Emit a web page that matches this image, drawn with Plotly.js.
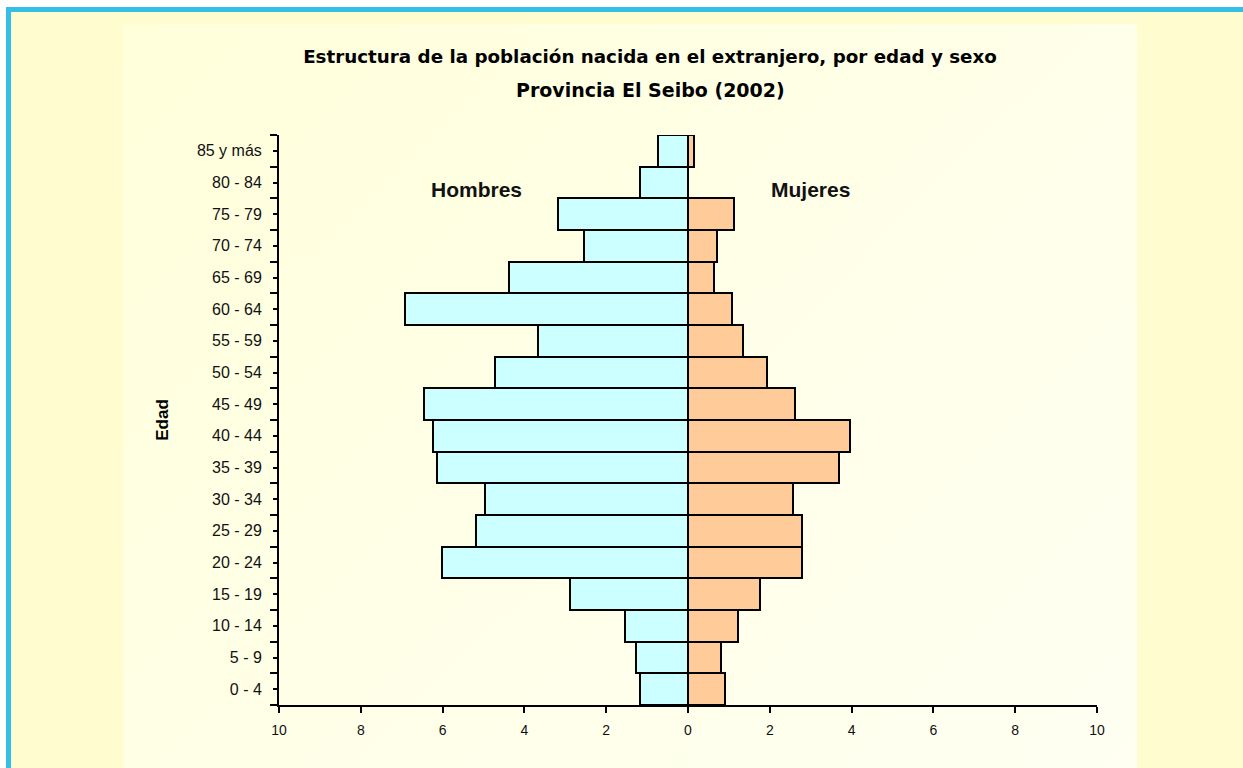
<!DOCTYPE html>
<html>
<head>
<meta charset="utf-8">
<script src="https://cdn.plot.ly/plotly-3.0.1.min.js"></script>
<style>
  html, body { margin:0; padding:0; width:1243px; height:768px; overflow:hidden; background:#ffffff; }
  #frame { position:absolute; left:6px; top:7px; width:1237px; height:761px; background:#FFFDD0; border-left:5px solid #33BFE6; border-top:5px solid #33BFE6; box-sizing:border-box; }
  #panel { position:absolute; left:123px; top:24px; width:1014px; height:744px; background:linear-gradient(135deg, #FFFFDA 0%, #FFFFE8 50%, #FFFFF2 100%); }
  #chart { position:absolute; left:0; top:0; width:1243px; height:768px; }
</style>
</head>
<body>
<div id="frame"></div>
<div id="panel"></div>
<div id="chart"></div>
<script>
const categories = ["0 - 4","5 - 9","10 - 14","15 - 19","20 - 24","25 - 29","30 - 34","35 - 39","40 - 44","45 - 49","50 - 54","55 - 59","60 - 64","65 - 69","70 - 74","75 - 79","80 - 84","85 y más"];
const hombres = [1.17, 1.27, 1.54, 2.89, 6.01, 5.18, 4.96, 6.14, 6.23, 6.45, 4.72, 3.67, 6.92, 4.38, 2.54, 3.18, 1.17, 0.73];
const mujeres = [0.90, 0.81, 1.22, 1.76, 2.79, 2.79, 2.57, 3.69, 3.96, 2.62, 1.93, 1.34, 1.08, 0.63, 0.71, 1.12, 0.00, 0.15];
const xTicks = [-10, -8, -6, -4, -2, 0, 2, 4, 6, 8, 10];

const idx = categories.map((c, i) => i);

const traces = [
  {
    type: 'bar', orientation: 'h', name: 'Hombres',
    y: idx, x: hombres.map(v => -v),
    customdata: hombres, hovertemplate: '%{customdata}<extra>Hombres</extra>',
    marker: { color: '#CCFFFF', line: { color: '#000000', width: 2 } }
  },
  {
    type: 'bar', orientation: 'h', name: 'Mujeres',
    y: idx, x: mujeres,
    hovertemplate: '%{x}<extra>Mujeres</extra>',
    marker: { color: '#FFCC99', line: { color: '#000000', width: 2 } }
  }
];

const titleFont = '"DejaVu Sans", "Liberation Sans", Arial, sans-serif';

const layout = {
  width: 1243, height: 768,
  paper_bgcolor: 'rgba(0,0,0,0)', plot_bgcolor: 'rgba(0,0,0,0)',
  margin: { l: 279, r: 146, t: 135, b: 63 },
  barmode: 'overlay', bargap: 0,
  showlegend: false,
  font: { family: '"Liberation Sans", Arial, sans-serif', color: '#111' },
  title: {
    text: '<b>Estructura de la población nacida en el extranjero, por edad y sexo</b>',
    font: { size: 18.3, color: '#000', family: titleFont },
    x: 650 / 1243, xanchor: 'center', xref: 'container',
    y: 1 - 57 / 768, yanchor: 'middle', yref: 'container'
  },
  xaxis: {
    range: [-10, 10], tickmode: 'array', tickvals: xTicks,
    ticktext: xTicks.map(v => String(Math.abs(v))),
    showline: true, linecolor: '#000', linewidth: 2,
    ticks: 'outside', ticklen: 6, tickwidth: 2, tickcolor: '#000',
    ticklabelstandoff: 5,
    showgrid: false, zeroline: false,
    tickfont: { size: 14, color: '#111' }, fixedrange: true
  },
  yaxis: {
    range: [-0.5, 17.5], tickmode: 'array', tickvals: idx, ticktext: categories,
    showline: true, linecolor: '#000', linewidth: 2,
    ticks: 'outside', ticklen: 4, tickwidth: 2, tickcolor: '#000',
    minor: { tickmode: 'linear', tick0: 0.5, dtick: 1, ticks: 'outside', ticklen: 7, tickwidth: 2, tickcolor: '#000', showgrid: false },
    ticklabelstandoff: 8,
    showgrid: false, zeroline: false,
    tickfont: { size: 16, color: '#111' },
    title: { text: '<b>Edad</b>', font: { size: 17, color: '#000' }, standoff: 24 },
    fixedrange: true
  },
  annotations: [
    { text: '<b>Provincia El Seibo (2002)</b>', xref: 'paper', yref: 'paper', x: (650 - 279) / 818, y: (705 - 90) / 570, xanchor: 'center', yanchor: 'middle', showarrow: false, font: { size: 19, color: '#000', family: titleFont } },
    { text: '<b>Hombres</b>', xref: 'x', yref: 'paper', x: -5.16, y: (705 - 190) / 570, xanchor: 'center', yanchor: 'middle', showarrow: false, font: { size: 21, color: '#111' } },
    { text: '<b>Mujeres</b>', xref: 'x', yref: 'paper', x: 3.0, y: (705 - 190) / 570, xanchor: 'center', yanchor: 'middle', showarrow: false, font: { size: 21, color: '#111' } }
  ]
};

Plotly.newPlot('chart', traces, layout, { displayModeBar: false });
</script>
</body>
</html>
